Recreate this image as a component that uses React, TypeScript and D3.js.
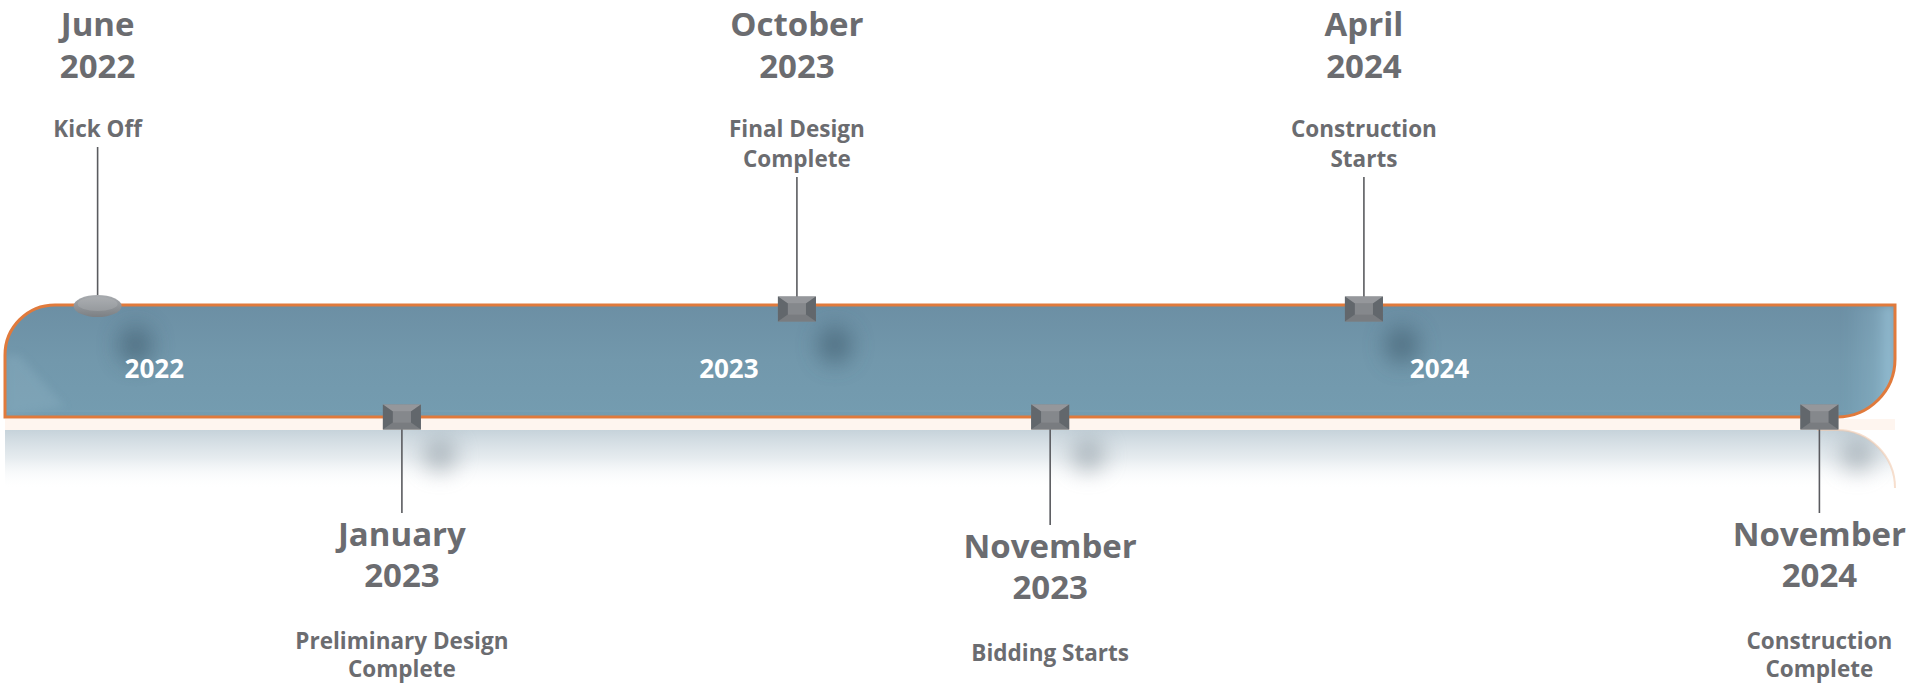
import React from "react";
import * as d3 from "d3";

// ---- data ----
const milestoneMonths = ["June", "January", "October", "November", "April", "November"];
const milestoneYears = ["2022", "2023", "2023", "2023", "2024", "2024"];
const milestoneEvents = [
  ["Kick Off"],
  ["Preliminary Design", "Complete"],
  ["Final Design", "Complete"],
  ["Bidding Starts"],
  ["Construction", "Starts"],
  ["Construction", "Complete"],
];
// position along the timeline track, in percent of its length
const milestonePositions = [4.9, 21.0, 41.9, 55.3, 71.9, 96.0];
const milestoneSides = ["above", "below", "above", "below", "above", "below"];
const milestoneShapes = ["oval", "box", "box", "box", "box", "box"];

const yearLabels = ["2022", "2023", "2024"];
const yearPositions = [7.9, 38.3, 75.9];

// ---- layout ----
const W = 1911;
const H = 686;
const trackLeft = 5;
const trackRight = 1895;
const barTop = 305;
const barBottom = 417;
const rTL = 50;
const rBR = 58;
const bottomStemExtra = [0, 0, 0, 12, 0, 0];

const FONT = "'Open Sans', 'Noto Sans', sans-serif";
const TEXT = "#6b6c70";

export default function App() {
  const x = d3.scaleLinear().domain([0, 100]).range([trackLeft, trackRight]);
  const x0 = x(0);
  const x1 = x(100);

  const barPath = d3.path();
  barPath.moveTo(x0, barBottom);
  barPath.lineTo(x0, barTop + rTL);
  barPath.arcTo(x0, barTop, x0 + rTL, barTop, rTL);
  barPath.lineTo(x1, barTop);
  barPath.lineTo(x1, barBottom - rBR);
  barPath.arcTo(x1, barBottom, x1 - rBR, barBottom, rBR);
  barPath.closePath();

  const refTop = 430;
  const refPath = d3.path();
  refPath.moveTo(x0, refTop);
  refPath.lineTo(x1 - rBR, refTop);
  refPath.arcTo(x1, refTop, x1, refTop + rBR, rBR);
  refPath.lineTo(x1, 500);
  refPath.lineTo(x0, 500);
  refPath.closePath();

  const refEdge = d3.path();
  refEdge.moveTo(x1 - rBR - 20, refTop);
  refEdge.lineTo(x1 - rBR, refTop);
  refEdge.arcTo(x1, refTop, x1, refTop + rBR, rBR);

  const leftBevel = `M${x0},${barBottom} L${x0},${barTop + rTL} L${x0 + 14},${barTop + rTL} L${x0 + 60},${barBottom - 10} Z`;

  const bw = 38;
  const bh = 25;

  return (
    <svg
      width={W}
      height={H}
      viewBox={`0 0 ${W} ${H}`}
      style={{ position: "absolute", left: 0, top: 0, background: "#fff" }}
    >
      <defs>
        <linearGradient id="barFill" x1="0" y1="0" x2="0" y2="1">
          <stop offset="0" stopColor="#6c8fa4" />
          <stop offset="0.5" stopColor="#7298ac" />
          <stop offset="1" stopColor="#749cb0" />
        </linearGradient>
        <linearGradient id="rightEnd" x1="0" y1="0" x2="1" y2="0">
          <stop offset="0" stopColor="#9fcbe0" stopOpacity="0" />
          <stop offset="0.6" stopColor="#9fcbe0" stopOpacity="0.25" />
          <stop offset="1" stopColor="#a8d4ea" stopOpacity="0.7" />
        </linearGradient>
        <linearGradient id="refFill" x1="0" y1="0" x2="0" y2="1">
          <stop offset="0" stopColor="#bccbd4" stopOpacity="0.85" />
          <stop offset="0.4" stopColor="#dbe3e8" stopOpacity="0.7" />
          <stop offset="0.85" stopColor="#ffffff" stopOpacity="0" />
        </linearGradient>
        <linearGradient id="ovalFill" x1="0" y1="0" x2="0" y2="1">
          <stop offset="0" stopColor="#a9acb0" />
          <stop offset="0.6" stopColor="#8d9195" />
          <stop offset="1" stopColor="#7c8084" />
        </linearGradient>
        <filter id="blur" x="-2" y="-2" width="5" height="5">
          <feGaussianBlur stdDeviation="11" />
        </filter>
        <filter id="softBlur" x="-0.5" y="-0.5" width="2" height="2">
          <feGaussianBlur stdDeviation="4" />
        </filter>
        <clipPath id="barClip">
          <path d={barPath.toString()} />
        </clipPath>
        <clipPath id="refClip">
          <path d={refPath.toString()} />
        </clipPath>
      </defs>

      {/* main bar */}
      <path d={barPath.toString()} fill="url(#barFill)" />
      <g clipPath="url(#barClip)">
        <path d={leftBevel} fill="#8fb2c4" opacity={0.35} filter="url(#softBlur)" />
        <rect x={x1 - 50} y={barTop} width={50} height={barBottom - barTop} fill="url(#rightEnd)" filter="url(#softBlur)" />
        <line x1={x0} x2={x1} y1={barBottom - 6} y2={barBottom - 6} stroke="#86aabd" strokeOpacity={0.45} strokeWidth={1} />
        {milestonePositions.map((p, i) =>
          milestoneSides[i] === "above" ? (
            <ellipse key={i} cx={x(p) + 38} cy={barTop + 40} rx={17} ry={19} fill="#3d5a6c" opacity={0.6} filter="url(#blur)" />
          ) : null
        )}
      </g>
      <path d={barPath.toString()} fill="none" stroke="#e07a3c" strokeWidth={3} />

      {/* reflection */}
      <rect x={x0} y={barBottom + 2} width={x1 - x0} height={refTop - barBottom - 2} fill="#fdf1e8" opacity={0.7} />
      <path d={refPath.toString()} fill="url(#refFill)" />
      <g clipPath="url(#refClip)">
        {milestonePositions.map((p, i) =>
          milestoneSides[i] === "below" ? (
            <ellipse key={i} cx={x(p) + 38} cy={barBottom + 38} rx={17} ry={17} fill="#7a8892" opacity={0.5} filter="url(#blur)" />
          ) : null
        )}
      </g>
      <path d={refEdge.toString()} fill="none" stroke="#f2c9ae" strokeWidth={2} opacity={0.6} />

      {/* year labels */}
      {yearLabels.map((y, i) => (
        <text
          key={y}
          x={x(yearPositions[i])}
          y={378}
          textAnchor="middle"
          fill="#ffffff"
          fontFamily={FONT}
          fontWeight="bold"
          fontSize={26}
        >
          {y}
        </text>
      ))}

      {/* milestones */}
      {milestonePositions.map((p, i) => {
        const cx = x(p);
        const above = milestoneSides[i] === "above";
        const my = above ? barTop + 4 : barBottom;
        const events = milestoneEvents[i];
        let stem: [number, number];
        let monthY: number;
        let evY: number;
        const yearGap = 43;
        if (above) {
          monthY = 36;
          evY = 137;
          const lastEv = evY + (events.length - 1) * 30;
          stem = [lastEv + 10, my - (milestoneShapes[i] === "oval" ? 10 : 12)];
        } else {
          const stemEnd = 513 + bottomStemExtra[i];
          stem = [my + 12, stemEnd];
          monthY = stemEnd + 33;
          evY = monthY + 41 + 62;
        }
        const bx = cx - bw / 2;
        const by = my - bh / 2;
        const ix = 10;
        const iy = 7;
        const evGap = above ? 30 : 28;
        return (
          <g key={i}>
            <line x1={cx} x2={cx} y1={stem[0]} y2={stem[1]} stroke="#5a5b5f" strokeWidth={1.6} />
            {milestoneShapes[i] === "oval" ? (
              <g>
                <ellipse cx={cx} cy={my - 3} rx={24} ry={11} fill="url(#ovalFill)" />
                <ellipse cx={cx} cy={my - 5} rx={20} ry={7} fill="#b4b7bb" opacity={0.35} />
              </g>
            ) : (
              <g>
                <rect x={bx} y={by} width={bw} height={bh} fill="#808387" />
                <polygon points={`${bx},${by} ${bx + bw},${by} ${bx + bw - ix},${by + iy} ${bx + ix},${by + iy}`} fill="#95979b" />
                <polygon points={`${bx},${by + bh} ${bx + bw},${by + bh} ${bx + bw - ix},${by + bh - iy} ${bx + ix},${by + bh - iy}`} fill="#797c80" />
                <polygon points={`${bx},${by} ${bx + ix},${by + iy} ${bx + ix},${by + bh - iy} ${bx},${by + bh}`} fill="#62676c" />
                <polygon points={`${bx + bw},${by} ${bx + bw - ix},${by + iy} ${bx + bw - ix},${by + bh - iy} ${bx + bw},${by + bh}`} fill="#62676c" />
                <rect x={bx + ix} y={by + iy} width={bw - 2 * ix} height={bh - 2 * iy} fill="#85888c" />
              </g>
            )}
            <text textAnchor="middle" fill={TEXT} fontFamily={FONT} fontWeight="bold" fontSize={33}>
              <tspan x={cx} y={monthY}>{milestoneMonths[i]}</tspan>
              <tspan x={cx} y={monthY + (above ? yearGap - 1 : 41)}>{milestoneYears[i]}</tspan>
            </text>
            <text textAnchor="middle" fill={TEXT} fontFamily={FONT} fontWeight="bold" fontSize={22.5}>
              {events.map((e, j) => (
                <tspan key={j} x={cx} y={evY + j * evGap}>
                  {e}
                </tspan>
              ))}
            </text>
          </g>
        );
      })}
    </svg>
  );
}
